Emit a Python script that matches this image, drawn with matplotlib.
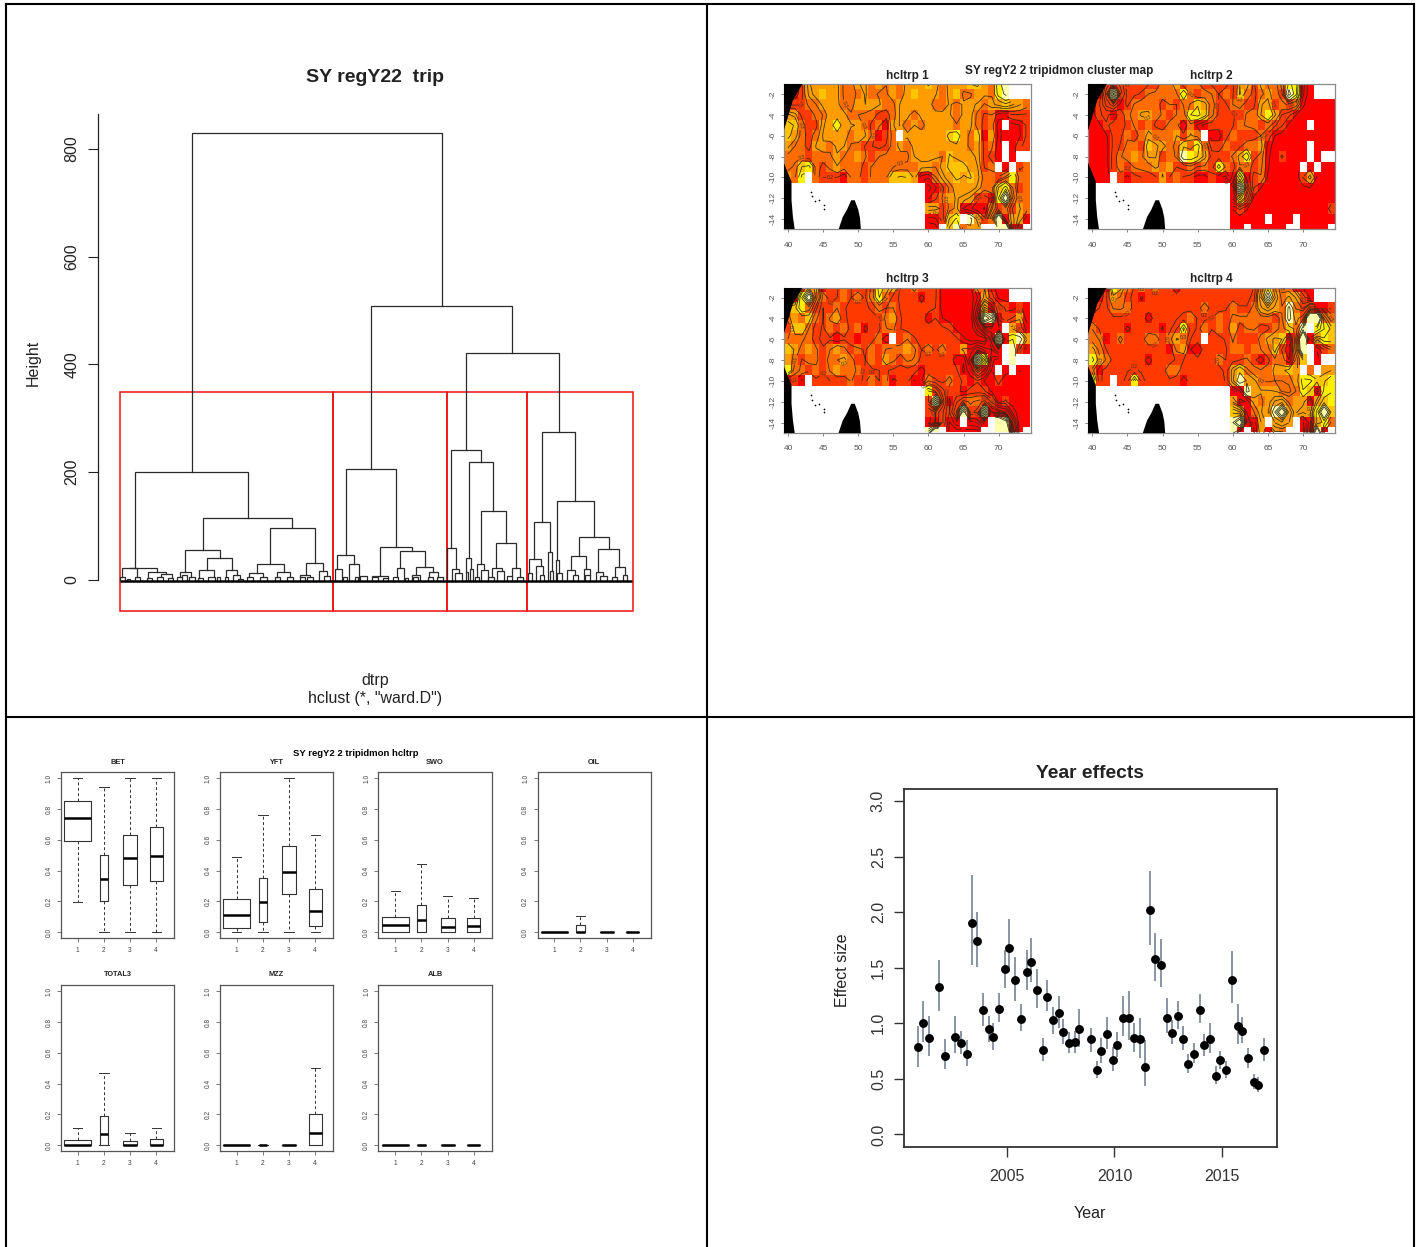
import numpy as np
import matplotlib
matplotlib.use("Agg")
import matplotlib.pyplot as plt
from matplotlib.colors import ListedColormap
from matplotlib.patches import Rectangle
from matplotlib.lines import Line2D

plt.rcParams['font.family'] = ['Liberation Sans', 'DejaVu Sans']
W, H = 1421, 1247
fig = plt.figure(figsize=(W / 100, H / 100), dpi=100, facecolor='white')

# ---------------------------- data: dendrogram ---------------------------
# merges: (left, right, top) read off crops, in crop units
merges_a = [(276, 1026, -741), (813, 1236, -222), (1098, 1377, -81),
            (106, 443, 276), (308, 575, 414), (256, 359, 510), (320, 395, 535),
            (298, 341, 571), (379, 410, 571), (240, 272, 577), (509, 645, 444),
            (470, 552, 552), (617, 669, 549), (448, 490, 580), (530, 570, 576),
            (600, 630, 586), (658, 680, 574), (67, 112, 565), (90, 172, 563),
            (145, 197, 577), (182, 215, 583),
            (60, 75, 590), (82, 90, 596), (105, 120, 592), (140, 155, 595),
            (170, 190, 592), (205, 220, 594), (230, 245, 592), (245, 260, 585),
            (268, 285, 590), (295, 308, 593), (325, 345, 590), (350, 360, 592),
            (375, 385, 590), (400, 420, 585), (415, 430, 596), (440, 458, 590),
            (480, 500, 590), (525, 540, 590), (560, 580, 590), (600, 615, 590),
            (620, 640, 592), (672, 690, 588), (730, 740, 590), (765, 775, 590),
            (780, 800, 588), (815, 835, 590), (850, 865, 594), (880, 895, 592),
            (915, 925, 594), (940, 955, 590), (985, 1000, 590), (1010, 1030, 590)]
merges_b = [(17, 168, 267), (-8, 42, 525), (-15, 7, 568), (26, 58, 552),
            (119, 217, 501), (180, 256, 514), (170, 192, 565), (228, 280, 562),
            (97, 143, 587), (268, 295, 577), (215, 240, 585),
            (333, 424, 210), (387, 460, 245), (424, 498, 394), (468, 529, 490),
            (411, 433, 553), (378, 394, 535), (322, 347, 504), (457, 485, 565),
            (516, 540, 565), (470, 492, 574), (335, 358, 568), (422, 443, 570),
            (390, 400, 568), (345, 365, 578), (378, 385, 575), (405, 418, 590),
            (445, 462, 590), (500, 515, 588), (530, 550, 590),
            (606, 706, 156), (583, 631, 427), (652, 763, 363), (718, 808, 471),
            (694, 739, 528), (775, 838, 508), (568, 602, 537), (625, 637, 516),
            (648, 658, 541), (682, 706, 571), (731, 749, 568), (767, 789, 576),
            (824, 856, 561), (588, 610, 558), (563, 575, 580), (630, 640, 574),
            (650, 665, 580), (815, 830, 590), (848, 862, 585), (600, 612, 585),
            (700, 715, 586), (735, 750, 586), (780, 800, 588)]
cut_groups = [(120, 333), (333, 447), (447, 526.5), (526.5, 632.5)]
cut_low, cut_high = -57.5, 349
height_ticks = [0, 200, 400, 600, 800]

# ---------------------------- data: maps ----------------------------------
lons = list(range(40, 75))
lats = list(range(-1, -16, -1))
map1 = ["00133 33322 33232 32333 43233 34432 56...",
        "00133 43322 23222 32343 33234 22332 56...",
        "11122 33322 33332 23333 32232 33323 34332",
        "33112 23332 22211 23323 33332 33212 00111",
        "44211 33533 32120 33232 33332 33212 0.001",
        "43212 33332 33201 2.333 33345 32403 00001",
        "32213 32332 21111 23233 33333 32312 0.011",
        "22212 22322 32122 22233 33243 33311 0.0..",
        "22452 12322 21222 22223 32344 43312 .0.12",
        "325.2 11102 21222 44430 02334 34322 12522",
        "..... ..... ..... ..... 00123 33322 45212",
        "..... ..... ..... ..... 01233 33110 59222",
        "..... ..... ..... ..... 33123 00002 12132",
        "..... ..... ..... ..... 00145 .6312 90330",
        "..... ..... ..... ..... 00.46 233.. 6900."]
map2 = ["00101 11111 22312 21111 13313 22255 00...",
        "00191 11122 22252 12212 14212 32175 00...",
        "01110 12222 12122 43211 22113 31212 00000",
        "01101 22332 21225 54211 11223 53110 00000",
        "00111 12121 12202 00111 12221 21100 0.000",
        "00011 21232 22313 2.001 21112 10000 00000",
        "00011 22143 32242 52112 11223 00000 0.000",
        "00012 23233 12265 43111 23512 00100 0.0..",
        "00012 12223 23112 12152 12212 00000 .0.00",
        "000.1 01111 31211 00100 05012 00000 13000",
        "..... ..... ..... ..... 09110 00000 00000",
        "..... ..... ..... ..... 04100 00000 00000",
        "..... ..... ..... ..... 01000 00000 00001",
        "..... ..... ..... ..... 00000 .000. 00000",
        "..... ..... ..... ..... 00.00 000.. 0000."]
map3 = ["00133 01121 11153 31121 11000 00220 00...",
        "00592 21121 21252 11110 11000 00031 00...",
        "44521 11211 11121 21111 11000 00030 11010",
        "23242 12311 11112 31111 01000 00097 01130",
        "14421 12121 20112 21111 11110 00000 0.310",
        "22221 11011 01120 .1211 11111 00000 90563",
        "43232 12321 21212 22321 21211 30000 0.610",
        "32122 12232 11213 21221 11110 00950 0.6..",
        "52212 12322 21111 11110 11111 00100 .0.00",
        "010.1 11112 11212 01100 21121 10100 10000",
        "..... ..... ..... ..... 51111 01110 00000",
        "..... ..... ..... ..... 19101 12211 01000",
        "..... ..... ..... ..... 11111 81190 00000",
        "..... ..... ..... ..... 00100 .000. 97000",
        "..... ..... ..... ..... 69.00 000.. 6900."]
map4 = ["00053 21212 11011 11111 11112 52220 00...",
        "00132 11011 11111 11111 11113 83233 10...",
        "01122 21111 11111 12111 21123 33262 11001",
        "11111 11101 11112 11121 22222 21263 19922",
        "21111 01111 01151 12121 31221 12242 6.554",
        "22012 11122 12321 1.111 21112 33401 90354",
        "32111 11111 10230 01111 22122 24102 8.012",
        "53211 11101 11111 11121 11210 12202 4.0..",
        "20111 11111 12211 11111 34222 23343 .2.33",
        "511.1 15111 11101 11111 36332 22223 55445",
        "..... ..... ..... ..... 00633 33222 54055",
        "..... ..... ..... ..... 30032 33323 30345",
        "..... ..... ..... ..... 43023 36933 33594",
        "..... ..... ..... ..... 69003 .333. 00352",
        "..... ..... ..... ..... 60.03 032.. 0090."]
map_rows = [map1, map2, map3, map4]
map_titles = ["hcltrp 1", "hcltrp 2", "hcltrp 3", "hcltrp 4"]
level_colors = ['#FF0000', '#FF3A00', '#FF6C00', '#FF9C00', '#FFC400', '#FFF000', '#FFFFB0']
contour_value = {'7': 12.0, '8': 16.0, '9': 20.0}
contour_levels = [.35, .75, 1.25, 1.7, 2.3, 2.7, 3.4, 4, 5, 6, 7, 8]
africa_lon = [38, 42.1, 40.7, 40.0, 39.4, 38, 38, 39.4, 40.5, 40.5, 40.7, 41.0, 38]
africa_lat = [-0.5, -1.0, -2.6, -4.2, -5.5, -5.5, -8.6, -8.6, -10.4, -12.2, -13.8, -15.2, -15.2]
madag_lon = [47.1, 47.8, 48.4, 49.0, 49.5, 50.0, 50.25, 50.4]
madag_lat = [-15.2, -13.8, -13.1, -12.2, -12.2, -13.1, -13.9, -15.2]
isle_lon = [43.3, 43.4, 43.8, 44.4, 45.1, 45.15]
isle_lat = [-11.4, -11.8, -12.3, -12.2, -12.7, -13.0]

# ---------------------------- data: boxplots -------------------------------
box_names = ["BET", "YFT", "SWO", "OIL", "TOTAL3", "MZZ", "ALB"]
box_width = [1.04, 0.33, 0.53, 0.48]
whislo = [[.195, 0, 0, 0], [0, 0, 0, 0], [0, 0, 0, 0], [0, 0, 0, 0], [0, 0, 0, 0], [0, 0, 0, 0], [0, 0, 0, 0]]
q1 = [[.59, .20, .31, .335], [.03, .07, .25, .04], [0, 0, 0, 0], [0, 0, 0, 0], [0, 0, 0, 0], [0, 0, 0, 0], [0, 0, 0, 0]]
med = [[.74, .345, .485, .495], [.11, .195, .39, .14], [.05, .08, .035, .04], [0, 0, 0, 0],
       [0, .075, 0, 0], [0, 0, 0, .08], [0, 0, 0, 0]]
q3 = [[.85, .50, .63, .68], [.215, .35, .56, .28], [.10, .175, .09, .09], [0, .045, 0, 0],
      [.035, .19, .03, .04], [0, 0, 0, .20], [0, 0, 0, 0]]
whishi = [[1, .94, 1, 1], [.49, .76, 1, .63], [.265, .44, .235, .225], [0, .105, 0, 0],
          [.11, .47, .08, .11], [0, 0, 0, .50], [0, 0, 0, 0]]

# ---------------------------- data: year effects ---------------------------
years = [2000.88, 2001.08, 2001.36, 2001.84, 2002.10, 2002.58, 2002.84, 2003.12, 2003.39, 2003.59,
         2003.87, 2004.15, 2004.35, 2004.63, 2004.89, 2005.09, 2005.37, 2005.65, 2005.91, 2006.12,
         2006.40, 2006.66, 2006.86, 2007.14, 2007.42, 2007.62, 2007.90, 2008.16, 2008.36, 2008.91,
         2009.19, 2009.39, 2009.65, 2009.93, 2010.13, 2010.41, 2010.69, 2010.89, 2011.17, 2011.43,
         2011.64, 2011.90, 2012.18, 2012.46, 2012.66, 2012.94, 2013.20, 2013.40, 2013.68, 2013.96,
         2014.16, 2014.43, 2014.71, 2014.91, 2015.19, 2015.45, 2015.73, 2015.93, 2016.19, 2016.47,
         2016.67, 2016.95]
effect = [.79, 1.0, .87, 1.33, .71, .88, .82, .725, 1.9, 1.74, 1.12, .945, .88, 1.13, 1.49, 1.68, 1.39,
          1.04, 1.46, 1.55, 1.3, .76, 1.24, 1.03, 1.09, .92, .82, .83, .945, .855, .58, .75, .905, .67,
          .805, 1.05, 1.05, .87, .855, .605, 2.02, 1.58, 1.525, 1.05, .91, 1.065, .855, .63, .72, 1.12,
          .805, .855, .53, .67, .58, 1.39, .975, .93, .685, .47, .445, .76]
eff_lo = [.61, .83, .71, 1.11, .59, .73, .72, .62, 1.53, 1.51, .98, .83, .76, 1.01, 1.32, 1.46, 1.2,
          .93, 1.3, 1.37, 1.14, .66, 1.11, .9, .96, .81, .73, .73, .79, .74, .51, .64, .77, .57,
          .7, .89, .85, .74, .69, .44, 1.71, 1.38, 1.33, .91, .81, .95, .76, .55, .64, 1.0,
          .71, .73, .45, .59, .51, 1.18, .81, .82, .6, .41, .38, .66]
eff_hi = [.98, 1.2, 1.07, 1.57, .86, 1.07, .93, .85, 2.34, 2.0, 1.27, 1.07, 1.0, 1.27, 1.66, 1.94, 1.6,
          1.17, 1.66, 1.77, 1.49, .87, 1.39, 1.15, 1.25, 1.04, .92, .93, 1.13, .96, .66, .87, 1.06, .79,
          .92, 1.25, 1.29, 1.0, 1.05, .85, 2.37, 1.81, 1.76, 1.23, 1.03, 1.2, .98, .72, .82, 1.26,
          .9, 1.0, .62, .75, .66, 1.65, 1.17, 1.06, .78, .54, .52, .87]


def axpx(l, t, r, b):
    return fig.add_axes([l / W, 1 - b / H, (r - l) / W, (b - t) / H])


def label(x, y, s, size, **kw):
    kw.setdefault('ha', 'center')
    kw.setdefault('va', 'center')
    kw.setdefault('color', '#222222')
    fig.text(x / W, 1 - (y + 1) / H, s, fontsize=size, **kw)


def soften(z):
    """Light neighbour averaging so contour lines run smoothly across the grid."""
    out = np.full(z.shape, np.nan)
    weights = {(0, 0): 4.0, (0, 1): 1.0, (0, -1): 1.0, (1, 0): 1.0, (-1, 0): 1.0,
               (1, 1): 0.5, (1, -1): 0.5, (-1, 1): 0.5, (-1, -1): 0.5}
    for i in range(z.shape[0]):
        for j in range(z.shape[1]):
            if np.isnan(z[i, j]):
                continue
            total, wsum = 0.0, 0.0
            for (di, dj), w in weights.items():
                a, b = i + di, j + dj
                if 0 <= a < z.shape[0] and 0 <= b < z.shape[1] and not np.isnan(z[a, b]):
                    total += w * z[a, b]
                    wsum += w
            out[i, j] = total / wsum
    return out


# panel frame lines
for seg in [((6, 6), (4, H)), ((707, 707), (4, H)), ((1414, 1414), (4, H)), ((6, 1414), (4, 4)), ((6, 1414), (717, 717))]:
    fig.add_artist(Line2D([seg[0][0] / W, seg[0][1] / W], [1 - seg[1][0] / H, 1 - seg[1][1] / H],
                          color='black', lw=1.5))

# ---------------------------- dendrogram -----------------------------------
ax = axpx(98.5, 100, 640, 625)
ax.set_xlim(98.5, 640)
ax.set_ylim((580 - 625) / 0.539, (580 - 100) / 0.539)
nodes = [(100 + a / 3, 100 + b / 3, (600 - t) * 0.6184) for a, b, t in merges_a]
nodes += [(340 + a / 3, 340 + b / 3, (600 - t) * 0.6184) for a, b, t in merges_b]


def landing(x, top):
    best = 0
    for a, b, t in nodes:
        if a - 0.6 <= x <= b + 0.6 and t < top - 0.01 and t > best:
            best = t
    return best


for a, b, t in nodes:
    ax.plot([a, a, b, b], [landing(a, t), t, t, landing(b, t)], color='#2a2a2a', lw=0.9,
            solid_joinstyle='miter', clip_on=False)
ax.plot([120, 632], [-1, -1], color='black', lw=1.8, solid_capstyle='butt')
for x0, x1 in cut_groups:
    ax.add_patch(Rectangle((x0, cut_low), x1 - x0, cut_high - cut_low, fill=False, ec='#F01010', lw=1.1, clip_on=False))
for s in ['top', 'right', 'bottom']:
    ax.spines[s].set_visible(False)
ax.spines['left'].set_bounds(0, 865)
ax.spines['left'].set_color('#222222')
ax.spines['left'].set_linewidth(0.9)
ax.set_xticks([])
ax.set_yticks(height_ticks)
ax.set_yticklabels(height_ticks, rotation=90, va='center', fontsize=11.5, color='#222222')
ax.tick_params(axis='y', length=7.5, width=0.8, pad=6, color='#222222')
ax.patch.set_alpha(0)
label(375, 76.5, "SY regY22  trip", 14, fontweight='bold')
label(33, 362, "Height", 11.5, rotation=90)
label(375, 679, "dtrp", 11.5)
label(375, 698, 'hclust (*, "ward.D")', 11.5)

# ---------------------------- maps -----------------------------------------
cmap = ListedColormap(level_colors)
map_boxes = [(784, 84), (1088.3, 84), (784, 287.5), (1088.3, 287.5)]
for rows, title, (l, t) in zip(map_rows, map_titles, map_boxes):
    ax = axpx(l, t, l + 247, t + 145)
    cells = [r.replace(' ', '') for r in rows]
    z = np.array([[np.nan if c == '.' else float(c) for c in r] for r in cells])
    zc = np.array([[np.nan if c == '.' else contour_value.get(c, float(c)) for c in r] for r in cells])
    ax.imshow(np.ma.masked_invalid(np.clip(z, 0, 6)), cmap=cmap, vmin=-0.5, vmax=6.5, aspect='auto',
              interpolation='nearest', extent=(39.5, 74.5, -15.5, -0.5))
    cs = ax.contour(lons, lats, np.ma.masked_invalid(soften(zc)), levels=contour_levels,
                    colors='#2a2a1a', linewidths=0.55)
    ax.clabel(cs, levels=contour_levels[2:5:2], fontsize=3.6, fmt=lambda v: f"{v / 10 + 0.05:.1f}", inline=True,
              inline_spacing=1, colors='#333333')
    ax.fill(africa_lon, africa_lat, color='black', lw=0, zorder=4)
    ax.fill(madag_lon, madag_lat, color='black', lw=0, zorder=4)
    ax.scatter(isle_lon, isle_lat, s=1.5, color='black', lw=0, zorder=4)
    ax.set_xlim(39.43, 74.6)
    ax.set_ylim(-14.96, -1.04)
    ax.set_xticks(range(40, 75, 5))
    ax.set_yticks(range(-14, -1, 2))
    ax.set_yticklabels([str(v) for v in range(-14, -1, 2)], rotation=90, va='center')
    ax.tick_params(labelsize=6, length=2.2, width=0.5, colors='#555555')
    ax.tick_params(axis='x', pad=7)
    ax.tick_params(axis='y', pad=3)
    for s in ax.spines.values():
        s.set_color('#8a8a8a')
        s.set_linewidth(0.9)
    label(l + 123.5, t - 9.5, title, 8.5, fontweight='bold')
label(1059, 70, "SY regY2 2 tripidmon cluster map", 8.5, fontweight='bold')

# ---------------------------- boxplots -------------------------------------
box_lefts = [61, 220, 378.5, 537.5, 61, 220, 378.5]
box_tops = [772, 772, 772, 772, 985, 985, 985]
for i, name in enumerate(box_names):
    ax = axpx(box_lefts[i], box_tops[i], box_lefts[i] + 113.3, box_tops[i] + 166.3)
    stats = [dict(med=med[i][k], q1=q1[i][k], q3=q3[i][k], whislo=whislo[i][k], whishi=whishi[i][k]) for k in range(4)]
    ax.bxp(stats, positions=[1, 2, 3, 4], widths=box_width, showfliers=False, capwidths=0.36,
           boxprops=dict(color='#333333', lw=0.8), medianprops=dict(color='black', lw=1.8, solid_capstyle='butt'),
           whiskerprops=dict(color='#333333', lw=0.7, ls=(0, (3, 2.5))), capprops=dict(color='#333333', lw=0.7))
    ax.set_xlim(0.36, 4.69)
    ax.set_ylim(-0.039, 1.04)
    ax.set_xticks([1, 2, 3, 4])
    ax.set_xticklabels(['1', '2', '3', '4'])
    ax.set_yticks([0, .2, .4, .6, .8, 1.0])
    ax.set_yticklabels(['0.0', '0.2', '0.4', '0.6', '0.8', '1.0'], rotation=90, va='center')
    ax.tick_params(labelsize=4.8, length=3, width=0.5, pad=3, colors='#444444')
    for s in ax.spines.values():
        s.set_color('#555555')
        s.set_linewidth(0.9)
    label(box_lefts[i] + 56.5, box_tops[i] - 11, name, 5.3, fontweight='bold')
label(356, 753, "SY regY2 2 tripidmon hcltrp", 6.8, fontweight='bold', color='black')

# ---------------------------- year effects ----------------------------------
ax = axpx(904, 789, 1277, 1147)
ax.vlines(years, eff_lo, eff_hi, color='#8a94a3', lw=1.4, zorder=2)
ax.plot(years, effect, 'o', color='black', ms=6.4, mew=0, zorder=3)
ax.set_xlim(2000.21, 2017.56)
ax.set_ylim(-0.113, 3.11)
ax.set_xticks([2005, 2010, 2015])
ax.set_yticks([0, .5, 1, 1.5, 2, 2.5, 3])
ax.set_yticklabels(['0.0', '0.5', '1.0', '1.5', '2.0', '2.5', '3.0'], rotation=90, va='center')
ax.tick_params(labelsize=11.5, length=7, width=1, colors='#333333')
ax.tick_params(axis='x', pad=9)
ax.tick_params(axis='y', pad=6)
for s in ax.spines.values():
    s.set_color('#333333')
    s.set_linewidth(1.3)
label(1090, 772, "Year effects", 13.9, fontweight='bold')
label(842.5, 969, "Effect size", 11.5, rotation=90)
label(1090, 1212, "Year", 11.5)

fig.savefig('out.png', dpi=100, facecolor='white')
